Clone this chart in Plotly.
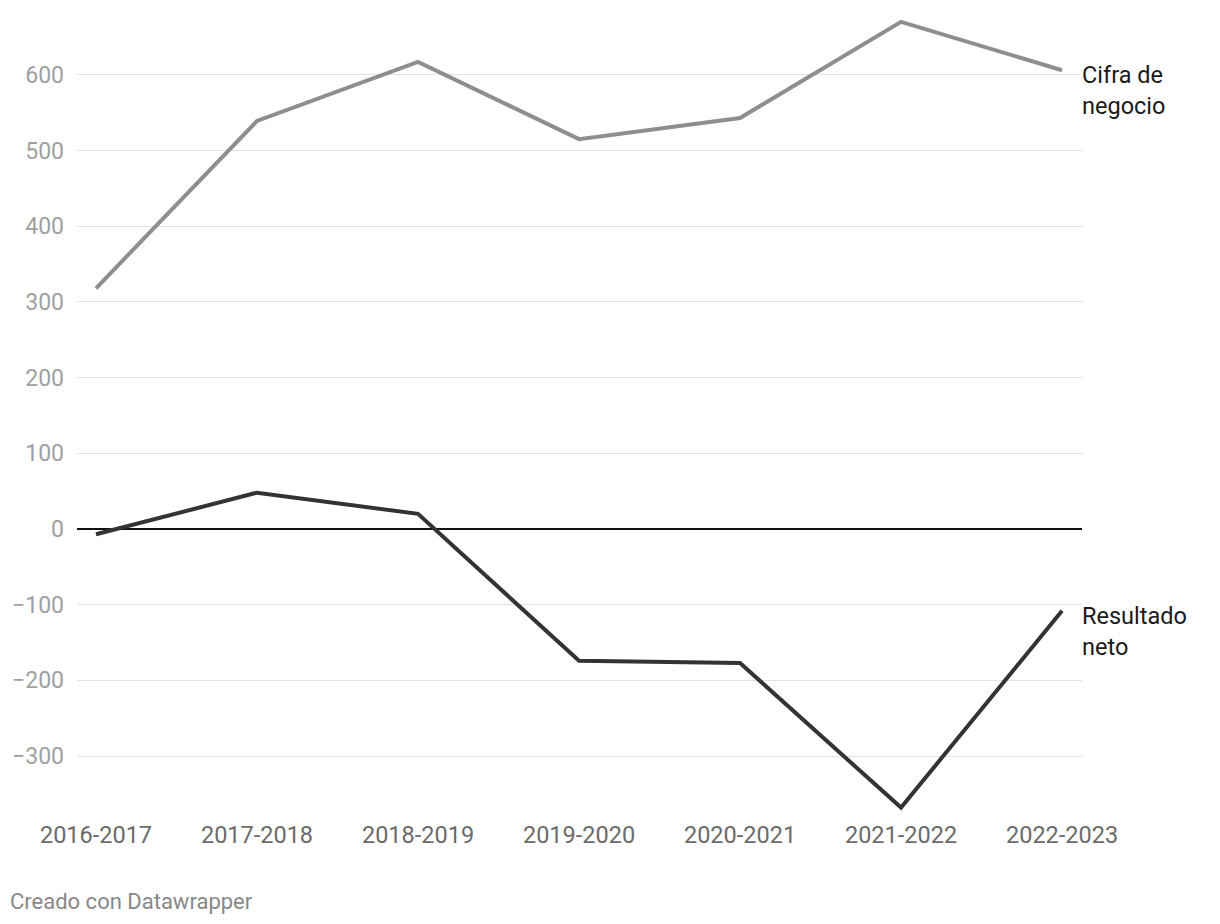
import plotly.graph_objects as go

categories = ["2016-2017", "2017-2018", "2018-2019", "2019-2020", "2020-2021", "2021-2022", "2022-2023"]
cifra_negocio = [318, 539, 617, 515, 543, 670, 606]
resultado_neto = [-7, 48, 20, -174, -177, -368, -108]
y_ticks = [-300, -200, -100, 0, 100, 200, 300, 400, 500, 600]
y_tick_text = ["−300", "−200", "−100", "0", "100", "200", "300", "400", "500", "600"]

FONT = "Roboto"
xi = list(range(len(categories)))

fig = go.Figure()
fig.add_trace(go.Scatter(x=xi, y=cifra_negocio, mode="lines",
                         line=dict(color="#8e8e8e", width=4), hoverinfo="skip"))
fig.add_trace(go.Scatter(x=xi, y=resultado_neto, mode="lines",
                         line=dict(color="#333333", width=4), hoverinfo="skip"))

fig.add_annotation(x=xi[-1], y=cifra_negocio[-1], text="Cifra de<br>negocio",
                   xanchor="left", yanchor="top", align="left", showarrow=False,
                   xshift=18, yshift=11, font=dict(family=FONT, size=23.5, color="#1a1a1a"))
fig.add_annotation(x=xi[-1], y=resultado_neto[-1], text="Resultado<br>neto",
                   xanchor="left", yanchor="top", align="left", showarrow=False,
                   xshift=18, yshift=11, font=dict(family=FONT, size=23.5, color="#1a1a1a"))

fig.add_annotation(x=0, y=0, xref="paper", yref="paper", xshift=-69, yshift=-86,
                   text="Creado con Datawrapper", showarrow=False,
                   xanchor="left", yanchor="middle",
                   font=dict(family=FONT, size=22, color="#888888"))

fig.update_layout(
    width=1220, height=924,
    margin=dict(l=77, r=138, t=10, b=109),
    paper_bgcolor="white", plot_bgcolor="white",
    showlegend=False,
    xaxis=dict(range=[-0.118, 6.124], tickmode="array", tickvals=xi, ticktext=categories,
               showgrid=False, zeroline=False, showline=False, ticks="", ticklabelstandoff=3,
               tickfont=dict(family=FONT, size=23.5, color="#6b6b6b")),
    yaxis=dict(range=[-377.8, 685.6], tickmode="array", tickvals=y_ticks, ticktext=y_tick_text,
               showgrid=True, gridcolor="#e3e3e3", gridwidth=1,
               zeroline=True, zerolinecolor="#111111", zerolinewidth=1.5,
               showline=False, ticks="", ticklabelstandoff=12,
               tickfont=dict(family=FONT, size=23, color="#a0a0a0")),
)

fig.write_html("out.html")
